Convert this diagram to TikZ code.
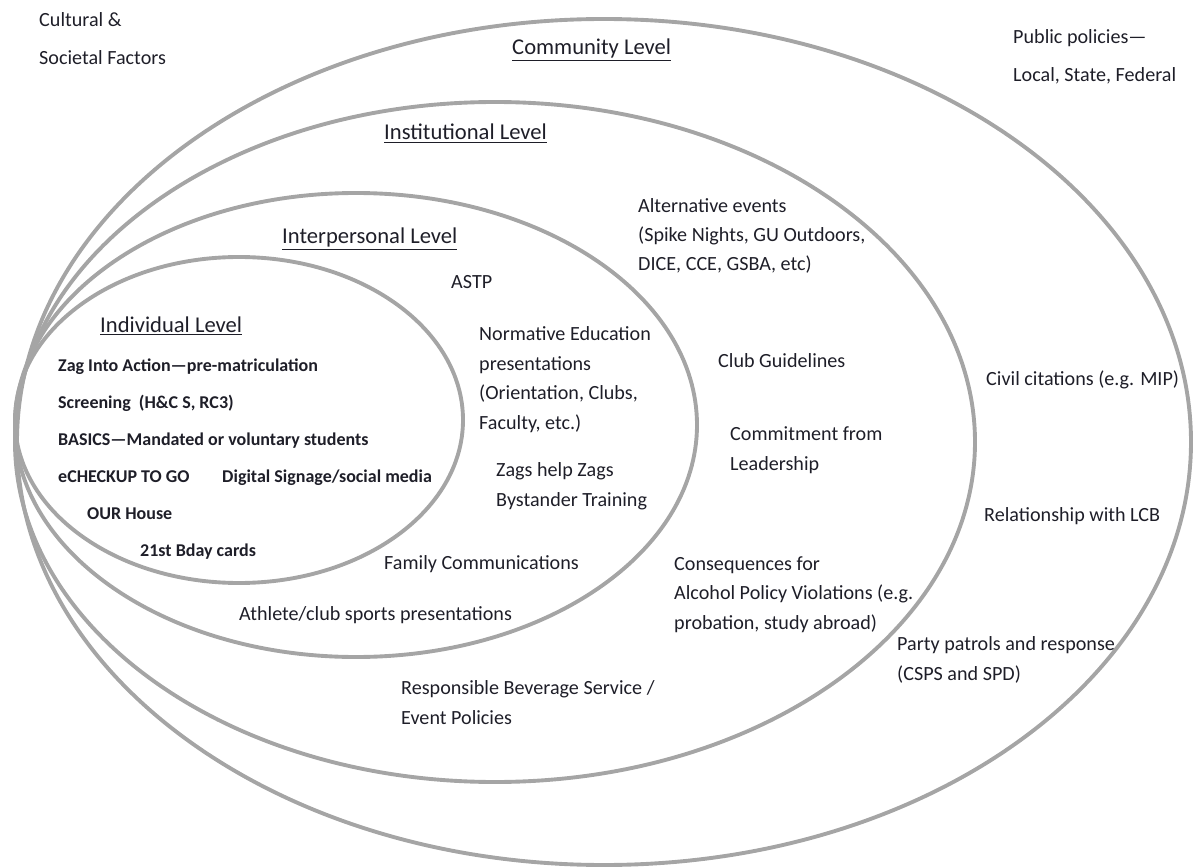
\documentclass[tikz,border=0pt]{standalone}
\usepackage{fontspec}
\setmainfont{Carlito}
\usepackage{xcolor}
\usepackage{tikz}
\usetikzlibrary{positioning}

\definecolor{ringgray}{HTML}{A5A5A5}
\definecolor{inktext}{HTML}{1E1E28}

\tikzset{
  ring/.style={draw=ringgray,line width=3.3pt},
  txt/.style={anchor=base west,inner sep=0pt,align=left,text=inktext,
    font=\fontsize{17.1}{25}\selectfont},
  wide/.style={txt,font=\fontsize{17.1}{33}\selectfont},
  heading/.style={anchor=base west,inner sep=0pt,text=inktext,
    font=\fontsize{19.2}{23}\selectfont},
  indiv/.style={anchor=base west,inner sep=0pt,text=inktext,
    font=\bfseries\fontsize{15.3}{18}\selectfont}
}

\begin{document}
\begin{tikzpicture}[x=0.85pt,y=-0.85pt]
      \useasboundingbox (0,0) rectangle (1194,867);

      \coordinate (cmty) at (604,442);
      \coordinate (inst) at (495,442);
      \coordinate (intp) at (356,425);
      \coordinate (indv) at (239,420);

      \draw[ring] (cmty) ellipse [x radius=587,y radius=423];
      \draw[ring] (inst) ellipse [x radius=480,y radius=340];
      \draw[ring] (intp) ellipse [x radius=341,y radius=232];
      \draw[ring] (indv) ellipse [x radius=224,y radius=163];

      % outside the rings (base = last line)
      \node[wide] (cult) at (39,65) {Cultural \&\\Societal Factors};
      \node[wide] (pubp) at (1013,82) {Public policies—\\Local, State, Federal};

      % headings
      \node[heading] (hcmty) at (512,55) {\underline{Community Level}};
      \node[heading] (hinst) at (384,140) {\underline{Institutional Level}};
      \node[heading] (hintp) at (282,244) {\underline{Interpersonal Level}};
      \node[heading] (hindv) at (100,332) {\underline{Individual Level}};

      % community level
      \node[txt] (civil) at (986,385) {Civil citations (e.g. MIP)};
      \node[txt] (lcb) at (984,521) {Relationship with LCB};
      \node[txt] (party) at (897,680) {Party patrols and response\\(CSPS and SPD)};

      % institutional level
      \node[txt] (alt) at (638,271) {Alternative events\\(Spike Nights, GU Outdoors,\\DICE, CCE, GSBA, etc)};
      \node[txt] (club) at (718,367) {Club Guidelines};
      \node[txt] (lead) at (730,470) {Commitment from\\Leadership};
      \node[txt] (cons) at (674,629) {Consequences for\\Alcohol Policy Violations (e.g.\\probation, study abroad)};
      \node[txt] (bev) at (401,724) {Responsible Beverage Service /\\Event Policies};

      % interpersonal level
      \node[txt] (astp) at (451,289) {ASTP};
      \node[txt] (norm) at (479,429) {Normative Education\\presentations\\(Orientation, Clubs,\\Faculty, etc.)};
      \node[txt] (zags) at (496,506) {Zags help Zags\\Bystander Training};
      \node[txt] (fam) at (384,569) {Family Communications};
      \node[txt] (ath) at (239,620) {Athlete/club sports presentations};

      % individual level
      \node[indiv] (zia) at (58,371) {Zag Into Action—pre-matriculation};
      \node[indiv] (scr) at (58,408) {Screening\ \ (H\&C S, RC3)};
      \node[indiv] (bas) at (58,445) {BASICS—Mandated or voluntary students};
      \node[indiv] (eck) at (58,482) {eCHECKUP TO GO};
      \node[indiv] (dig) at (222,482) {Digital Signage/social media};
      \node[indiv] (our) at (87,519) {OUR House};
      \node[indiv] (bday) at (140,556) {21st Bday cards};
\end{tikzpicture}
\end{document}
